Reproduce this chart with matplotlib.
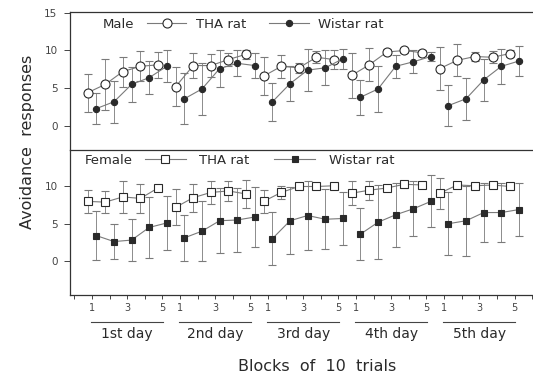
import numpy as np
import matplotlib
matplotlib.use('Agg')
import matplotlib.pyplot as plt
import matplotlib.transforms as mtransforms

days = ['1st day', '2nd day', '3rd day', '4th day', '5th day']
blocks = np.arange(1, 26)

# male, mean and SD per block (5 days x 5 blocks)
male_tha = [4.4, 5.5, 7.2, 7.9, 8.1,
            5.2, 8.0, 8.0, 8.8, 9.5,
            6.6, 7.9, 7.7, 9.1, 8.8,
            6.7, 8.1, 9.8, 10.0, 9.7,
            7.6, 8.7, 9.2, 9.1, 9.6]
male_tha_sd = [2.5, 3.4, 2.0, 2.0, 1.7,
               2.6, 1.7, 1.5, 0.9, 0.6,
               2.5, 1.5, 0.7, 0.8, 1.3,
               3.0, 2.2, 0.4, 0.3, 0.4,
               2.9, 2.1, 0.6, 0.8, 0.5]
male_wis = [2.3, 3.2, 5.5, 6.4, 7.9,
            3.6, 4.9, 7.6, 8.3, 8.0,
            3.2, 5.6, 7.4, 7.7, 8.9,
            3.8, 4.9, 7.9, 8.5, 9.2,
            2.7, 3.6, 6.1, 7.9, 8.6]
male_wis_sd = [2.1, 2.8, 2.3, 2.2, 2.1,
               3.4, 3.4, 2.5, 1.7, 1.7,
               2.5, 2.3, 2.8, 2.3, 1.3,
               2.3, 3.0, 1.5, 1.5, 0.6,
               2.7, 2.8, 2.8, 2.3, 2.0]

# female
fem_tha = [8.0, 7.9, 8.6, 8.4, 9.8,
           7.2, 8.5, 9.2, 9.4, 9.0,
           8.0, 9.2, 10.0, 10.0, 10.1,
           9.1, 9.5, 9.8, 10.3, 10.2,
           9.1, 10.2, 10.1, 10.2, 10.0]
fem_tha_sd = [1.5, 1.5, 2.2, 1.9, 0.0,
              2.4, 1.9, 1.5, 1.3, 1.9,
              1.5, 0.9, 0.3, 0.3, 0.3,
              1.6, 1.3, 0.4, 0.5, 0.3,
              2.1, 0.3, 0.3, 0.3, 0.3]
fem_wis = [3.4, 2.6, 2.8, 4.5, 5.1,
           3.1, 4.0, 5.4, 5.5, 5.9,
           3.0, 5.4, 6.1, 5.6, 5.7,
           3.6, 5.2, 6.2, 7.0, 8.0,
           5.0, 5.4, 6.5, 6.5, 6.9]
fem_wis_sd = [3.3, 2.3, 2.8, 4.1, 3.6,
              3.1, 4.0, 4.4, 4.3, 4.0,
              3.6, 4.5, 4.6, 4.0, 3.6,
              3.5, 5.0, 4.3, 3.7, 3.5,
              4.2, 4.7, 4.0, 4.0, 3.6]

ink = '#2a2a2a'
grey = '#7a7a7a'

fig = plt.figure(figsize=(5.33, 3.76), dpi=100)
ax1 = fig.add_axes([0.1313, 0.601, 0.8687, 0.367])
ax2 = fig.add_axes([0.1313, 0.215, 0.8687, 0.386])


def draw(ax, y, sd, dx, marker, face, ms):
    handle = None
    for d in range(5):
        s = slice(d * 5, d * 5 + 5)
        c = ax.errorbar(blocks[s] + dx, y[s], yerr=sd[s], color=grey, lw=0.8,
                        elinewidth=0.6, capsize=3, capthick=0.6,
                        marker=marker, ms=ms, mfc=face, mec=ink, mew=0.8)
        if handle is None:
            handle = c[0]
    return handle


h1 = draw(ax1, male_tha, male_tha_sd, -0.25, 'o', 'white', 6.5)
h2 = draw(ax1, male_wis, male_wis_sd, 0.25, 'o', ink, 4.5)
h3 = draw(ax2, fem_tha, fem_tha_sd, -0.25, 's', 'white', 5.5)
h4 = draw(ax2, fem_wis, fem_wis_sd, 0.25, 's', ink, 4.5)

for ax in (ax1, ax2):
    ax.set_xlim(-0.25, 26.05)
    ax.spines['right'].set_visible(False)
    for s in ['left', 'top', 'bottom']:
        ax.spines[s].set_color('#333333')
        ax.spines[s].set_linewidth(0.9)
    ax.tick_params(axis='y', direction='out', length=4, width=0.7,
                   labelsize=7.5, colors='#444444', pad=5)

ax1.set_ylim(-3.2, 15.1)
ax1.set_yticks([0, 5, 10, 15])
ax1.set_xticks([])
ax1.spines['bottom'].set_visible(False)

ax2.set_ylim(-4.6, 14.9)
ax2.set_yticks([0, 5, 10])
ticks = np.arange(0, 27)
labels = []
for t in ticks:
    k = (t - 1) % 5 + 1
    labels.append(str(k) if 1 <= t <= 25 and k in (1, 3, 5) else '')
ax2.set_xticks(ticks)
ax2.set_xticklabels(labels)
ax2.tick_params(axis='x', direction='out', length=3, width=0.7,
                labelsize=7, colors='#444444', pad=3)

trans = mtransforms.blended_transform_factory(ax2.transData, ax2.transAxes)
for d, name in enumerate(days):
    a, b = d * 5 + 1, d * 5 + 5
    ax2.plot([a - 0.05, b + 0.05], [-0.186, -0.186], color='#444444', lw=0.8,
             transform=trans, clip_on=False)
    ax2.text((a + b) / 2, -0.265, name, transform=trans, ha='center', va='center',
             fontsize=10, color=ink)

ax1.text(0.071, 0.913, 'Male', transform=ax1.transAxes, ha='left', va='center',
         fontsize=9.5, color=ink)
ax1.legend([h1, h2], ['THA rat', 'Wistar rat'], ncol=2, loc='center left',
           bbox_to_anchor=(0.166, 0.913), frameon=False, borderpad=0,
           borderaxespad=0, handlelength=3.0, handletextpad=0.75,
           columnspacing=1.7, fontsize=9.5, labelcolor=ink)

ax2.text(0.032, 0.931, 'Female', transform=ax2.transAxes, ha='left', va='center',
         fontsize=9.5, color=ink)
ax2.legend([h3, h4], ['THA rat', 'Wistar rat'], ncol=2, loc='center left',
           bbox_to_anchor=(0.162, 0.931), frameon=False, borderpad=0,
           borderaxespad=0, handlelength=3.1, handletextpad=1.0,
           columnspacing=1.9, fontsize=9.5, labelcolor=ink)

fig.text(0.051, 0.622, 'Avoidance  responses', rotation=90, ha='center',
         va='center', fontsize=11.5, color=ink)
fig.text(0.595, 0.024, 'Blocks  of  10  trials', ha='center', va='center',
         fontsize=11.5, color=ink)

fig.savefig('out.png', dpi=100)
